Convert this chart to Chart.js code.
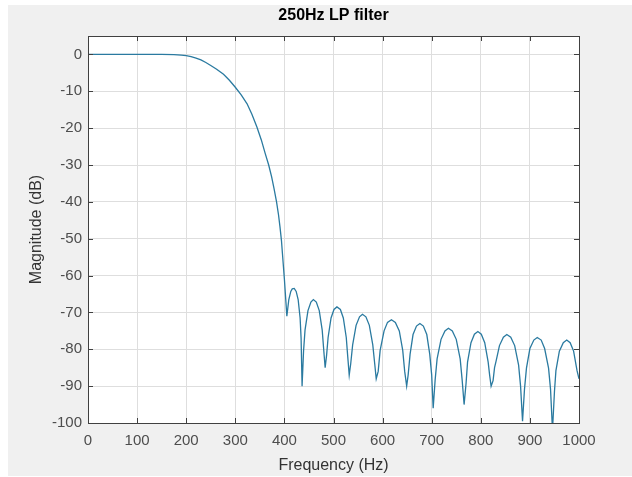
<!DOCTYPE html>
<html>
<head>
<meta charset="utf-8">
<script src="https://cdn.jsdelivr.net/npm/chart.js@4/dist/chart.umd.min.js"></script>
<style>
    html, body { margin: 0; padding: 0; background: #fff; }
    #wrap { width: 632px; height: 477px; }
</style>
</head>
<body>
<div id="wrap"><canvas id="chartFilter" width="632" height="477"></canvas></div>
<script>
// values
var freqs = [
    0, 50, 100, 150, 175, 190, 200, 210, 220, 230, 240, 250, 262, 276, 288, 300, 312, 324, 334, 344,
    353, 361, 368, 374, 379, 384, 388, 391, 394, 396, 398, 400, 403,
    405, 409, 413, 416, 420, 424, 428, 432, 434, 436,
    439, 442, 448, 454, 459, 465, 471, 477, 480, 483,
    486, 489, 495, 501, 507, 514, 520, 526, 529, 532,
    535, 539, 546, 553, 559, 566, 573, 580, 584, 587,
    591, 595, 603, 610, 618, 626, 634, 641, 645, 649,
    652, 656, 662, 669, 676, 683, 690, 696, 700, 703,
    707, 711, 719, 727, 734, 742, 750, 758, 762, 766,
    770, 773, 780, 787, 794, 801, 808, 815, 818, 821,
    825, 828, 831, 838, 846, 853, 861, 869, 877, 881, 885,
    889, 893, 900, 908, 915, 923, 930, 938, 942, 946,
    950, 953, 960, 968, 975, 982, 989, 996, 1000
];
var magnitude = [
    0, 0, 0, 0, -0.05, -0.2, -0.35, -0.6, -1.0, -1.5, -2.2, -3.0, -4.0, -5.4, -7.0, -8.9, -11, -13.4, -16.3, -19.7,
    -23.2, -26.9, -30, -33.2, -36.5, -40, -43.5, -46.8, -50.5, -54, -57.5, -61, -67,
    -71, -66.5, -64.3, -63.6, -63.5, -64.3, -66.5, -71.5, -77, -90,
    -80.5, -74.8, -69.5, -67.2, -66.5, -67.2, -69.5, -74.8, -80, -85,
    -81.5, -76.8, -71.5, -69.2, -68.5, -69.2, -71.5, -76.8, -82, -87,
    -84, -78.8, -73.5, -71.2, -70.5, -71.2, -73.5, -78.8, -84, -88,
    -86, -80.3, -75, -72.7, -72, -72.7, -75, -80.3, -86, -90,
    -87, -81.3, -76, -73.7, -73, -73.7, -76, -81.3, -87, -96,
    -88.3, -82.6, -77.3, -75, -74.3, -75, -77.3, -82.6, -88.3, -95,
    -89.2, -83.5, -78.2, -75.9, -75.2, -75.9, -78.2, -83.5, -87, -90,
    -88.5, -85, -83.3, -79, -76.7, -76, -76.7, -79, -84.3, -90, -99.5,
    -90.8, -85.1, -79.8, -77.5, -76.8, -77.5, -79.8, -85.1, -90.8, -102,
    -91.5, -85.8, -80.5, -78.2, -77.5, -78.2, -80.5, -85.8, -88
];
var xTicks = [0, 100, 200, 300, 400, 500, 600, 700, 800, 900, 1000];
var yTicks = [0, -10, -20, -30, -40, -50, -60, -70, -80, -90, -100];

var points = freqs.map(function (f, i) { return { x: f, y: magnitude[i] }; });

var frameColor = "#404040";
var fontName = "'Liberation Sans', Arial, sans-serif";

// figure background, white axes, box with inward ticks, title
var matlabLook = {
    id: "matlabLook",
    beforeDraw: function (chart) {
        var c = chart.ctx, a = chart.chartArea;
        c.save();
        c.fillStyle = "#ffffff";
        c.fillRect(0, 0, chart.width, chart.height);
        c.fillStyle = "#f0f0f0";
        c.fillRect(8, 5, chart.width - 8, 471);
        c.fillStyle = "#ffffff";
        c.fillRect(a.left, a.top, a.right - a.left, a.bottom - a.top);
        c.restore();
    },
    afterDraw: function (chart) {
        var c = chart.ctx, a = chart.chartArea;
        var xs = chart.scales.x, ys = chart.scales.y;
        c.save();
        c.strokeStyle = frameColor;
        c.lineWidth = 1;
        c.beginPath();
        xTicks.forEach(function (v) {
            var px = Math.round(xs.getPixelForValue(v)) + 0.5;
            c.moveTo(px, a.bottom); c.lineTo(px, a.bottom - 5);
            c.moveTo(px, a.top); c.lineTo(px, a.top + 5);
        });
        yTicks.forEach(function (v) {
            var py = Math.round(ys.getPixelForValue(v)) + 0.5;
            c.moveTo(a.left, py); c.lineTo(a.left + 5, py);
            c.moveTo(a.right, py); c.lineTo(a.right - 5, py);
        });
        c.stroke();
        c.strokeRect(a.left + 0.5, a.top + 0.5, a.right - a.left, a.bottom - a.top);
        c.fillStyle = "#000";
        c.font = "bold 16px " + fontName;
        c.textAlign = "center";
        c.textBaseline = "middle";
        c.fillText("250Hz LP filter", (a.left + a.right) / 2, 16);
        c.restore();
    }
};

var ctxFilter = document.getElementById("chartFilter").getContext("2d");
var chart1 = new Chart(ctxFilter, {
    type: "line",
    data: {
        datasets: [{
            data: points,
            borderColor: "#2a7aa0",
            borderWidth: 1.3,
            pointRadius: 0,
            tension: 0,
            fill: false,
        }],
    },
    options: {
        responsive: false,
        animation: false,
        devicePixelRatio: 1,
        layout: { padding: { top: 36, right: 53, left: 0, bottom: 0 } },
        plugins: { legend: { display: false }, tooltip: { enabled: false } },
        scales: {
            x: {
                type: "linear",
                min: 0,
                max: 1000,
                afterBuildTicks: function (s) { s.ticks = xTicks.map(function (v) { return { value: v }; }); },
                afterFit: function (s) { s.height = 54; },
                grid: { color: "#dedede", drawTicks: false },
                border: { display: false },
                ticks: {
                    autoSkip: false, maxRotation: 0, padding: 9,
                    color: "#4d4d4d", font: { family: fontName, size: 15 },
                    callback: function (v) { return String(v); },
                },
                title: {
                    display: true, text: "Frequency (Hz)", color: "#333",
                    font: { family: fontName, size: 16 }, padding: { top: 0, bottom: 2 },
                },
            },
            y: {
                type: "linear",
                min: -100,
                max: 5,
                afterBuildTicks: function (s) { s.ticks = yTicks.map(function (v) { return { value: v }; }); },
                afterFit: function (s) { s.width = 88; },
                grid: { color: "#dedede", drawTicks: false },
                border: { display: false },
                ticks: {
                    autoSkip: false, padding: 6,
                    color: "#4d4d4d", font: { family: fontName, size: 15 },
                    callback: function (v) { return String(v); },
                },
                title: {
                    display: true, text: "Magnitude (dB)", color: "#333",
                    font: { family: fontName, size: 16 }, padding: { top: 27, bottom: 0 },
                },
            },
        },
    },
    plugins: [matlabLook],
});
</script>
</body>
</html>
